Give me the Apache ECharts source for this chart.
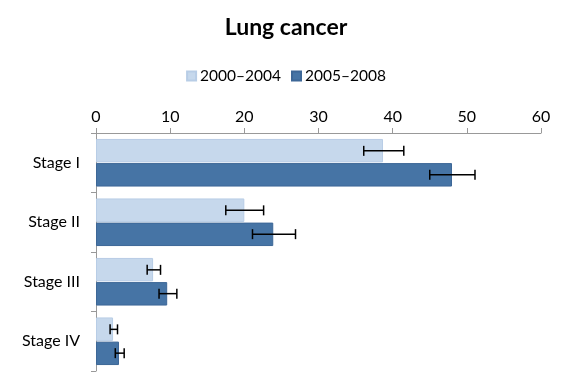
<!DOCTYPE html>
<html><head><meta charset="utf-8">
<script src="https://cdn.jsdelivr.net/npm/echarts@6/dist/echarts.min.js"></script>
<style>html,body{margin:0;padding:0;background:#fff}#c{width:572px;height:387px}</style>
</head><body><div id="c"></div>
<script>
var categories = ['Stage I', 'Stage II', 'Stage III', 'Stage IV'];
var seriesNames = ['2000–2004', '2005–2008'];
var values2000 = [38.7, 20.0, 7.7, 2.3];
var values2005 = [48.0, 23.9, 9.6, 3.1];
var err2000Low = [36.1, 17.5, 6.9, 1.9];
var err2000High = [41.5, 22.6, 8.7, 2.9];
var err2005Low = [45.0, 21.1, 8.5, 2.6];
var err2005High = [51.1, 26.9, 10.9, 3.8];
var xTicks = [0, 10, 20, 30, 40, 50, 60];

var FONT = 'Lato';
var chart = echarts.init(document.getElementById('c'));

function errData(lo, hi) {
  return categories.map(function (c, i) { return [i, lo[i], hi[i]]; });
}
function errRender(which) {
  return function (params, api) {
    var ci = api.value(0);
    var p1 = api.coord([api.value(1), ci]);
    var p2 = api.coord([api.value(2), ci]);
    var band = api.size([0, 1])[1];
    var barW = band * 0.8 / 2;
    var y = p1[1] + (which === 0 ? -barW / 2 : barW / 2);
    var cap = 5;
    var st = { stroke: '#000', lineWidth: 1.5 };
    return { type: 'group', children: [
      { type: 'line', shape: { x1: p1[0], y1: y, x2: p2[0], y2: y }, style: st },
      { type: 'line', shape: { x1: p1[0], y1: y - cap, x2: p1[0], y2: y + cap }, style: st },
      { type: 'line', shape: { x1: p2[0], y1: y - cap, x2: p2[0], y2: y + cap }, style: st }
    ]};
  };
}

chart.setOption({
  animation: false,
  title: { text: 'Lung cancer', left: 'center', top: 11,
    textStyle: { fontFamily: FONT, fontWeight: 'bold', fontSize: 23, color: '#000' } },
  legend: { top: 63, left: 'center', itemWidth: 9, itemHeight: 9, itemGap: 10, icon: 'rect',
    data: seriesNames,
    textStyle: { fontFamily: FONT, fontSize: 15.5, color: '#000', padding: [0, 0, 0, -1] } },
  grid: { left: 96, right: 31, top: 133, bottom: 16 },
  xAxis: { type: 'value', position: 'top', min: xTicks[0], max: xTicks[xTicks.length - 1], interval: 10,
    axisLine: { show: true, lineStyle: { color: '#999', width: 1 } },
    axisTick: { show: true, length: 5, lineStyle: { color: '#999' } },
    splitLine: { show: false },
    axisLabel: { fontFamily: FONT, fontSize: 16, color: '#000', margin: 8 } },
  yAxis: { type: 'category', inverse: true, data: categories,
    axisLine: { show: true, lineStyle: { color: '#999', width: 1 } },
    axisTick: { show: true, length: 5, lineStyle: { color: '#999' } },
    axisLabel: { fontFamily: FONT, fontSize: 16, color: '#000', margin: 16 } },
  series: [
    { name: seriesNames[0], type: 'bar', data: values2000, barCategoryGap: '20%', barGap: '3%',
      itemStyle: { color: '#C6D8EC', borderColor: '#B8CDE6', borderWidth: 1 } },
    { name: seriesNames[1], type: 'bar', data: values2005, barCategoryGap: '20%', barGap: '3%',
      itemStyle: { color: '#4674A5', borderColor: '#3D6797', borderWidth: 1 } },
    { type: 'custom', renderItem: errRender(0), data: errData(err2000Low, err2000High), encode: { x: [1, 2], y: 0 }, z: 5 },
    { type: 'custom', renderItem: errRender(1), data: errData(err2005Low, err2005High), encode: { x: [1, 2], y: 0 }, z: 5 }
  ]
});
</script></body></html>
